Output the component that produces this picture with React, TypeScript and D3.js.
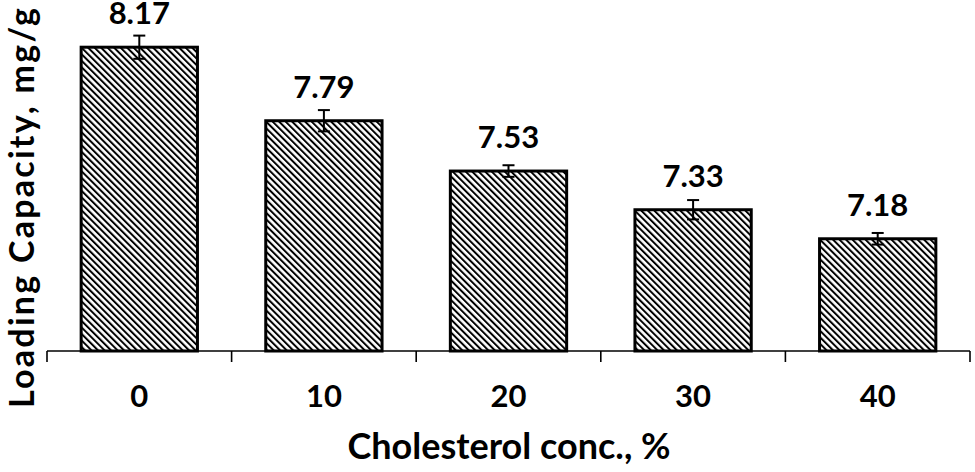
import { useEffect, useRef } from 'react';
import * as d3 from 'd3';

const categories = ['0', '10', '20', '30', '40'];
const values = [8.17, 7.79, 7.53, 7.33, 7.18];
const errors = [0.06, 0.055, 0.03, 0.05, 0.03];
const valueLabels = ['8.17', '7.79', '7.53', '7.33', '7.18'];

const xTitle = 'Cholesterol conc., %';
const yTitle = 'Loading Capacity, mg/g';

const width = 975;
const height = 472;
const FONT = 'Lato, "Open Sans", sans-serif';

export default function App() {
  const svgRef = useRef<SVGSVGElement>(null);

  useEffect(() => {
    const svg = d3.select(svgRef.current);
    svg.selectAll('*').remove();

    const left = 47;
    const right = 970;
    const base = 351;

    const x = d3
      .scaleBand<string>()
      .domain(categories)
      .range([left, right])
      .paddingInner(0.37)
      .paddingOuter(0.185);
    const y = d3.scaleLinear().domain([6.6, 8.2]).range([base, 41.4]);

    // hatch pattern, lines running top-left to bottom-right
    const defs = svg.append('defs');
    const pat = defs
      .append('pattern')
      .attr('id', 'hatch')
      .attr('patternUnits', 'userSpaceOnUse')
      .attr('width', 4.6)
      .attr('height', 10)
      .attr('patternTransform', 'rotate(-45)');
    pat.append('rect').attr('width', 4.6).attr('height', 10).attr('fill', '#fff');
    pat
      .append('line')
      .attr('x1', 1)
      .attr('x2', 1)
      .attr('y1', 0)
      .attr('y2', 10)
      .attr('stroke', '#000')
      .attr('stroke-width', 2);

    const rows = categories.map((c, i) => ({
      c,
      v: values[i],
      e: errors[i],
      label: valueLabels[i],
    }));

    // bars
    svg
      .append('g')
      .selectAll('rect')
      .data(rows)
      .join('rect')
      .attr('x', (d) => x(d.c)!)
      .attr('y', (d) => y(d.v))
      .attr('width', x.bandwidth())
      .attr('height', (d) => base - y(d.v))
      .attr('fill', 'url(#hatch)')
      .attr('stroke', '#000')
      .attr('stroke-width', 3);

    // x axis line + ticks at band edges
    const ax = svg.append('g').attr('stroke', '#000').attr('stroke-width', 1.6);
    ax.append('line')
      .attr('x1', left)
      .attr('x2', right)
      .attr('y1', base)
      .attr('y2', base);
    const edges = d3.range(categories.length + 1).map((i) => left + i * x.step());
    ax.selectAll('line.tick')
      .data(edges)
      .join('line')
      .attr('class', 'tick')
      .attr('x1', (d) => d)
      .attr('x2', (d) => d)
      .attr('y1', base)
      .attr('y2', base + 11);

    // error bars
    const eb = svg
      .append('g')
      .attr('stroke', '#000')
      .attr('stroke-width', 2);
    rows.forEach((d) => {
      const cx = x(d.c)! + x.bandwidth() / 2;
      const y1 = y(d.v + d.e);
      const y2 = y(d.v - d.e);
      eb.append('line').attr('x1', cx).attr('x2', cx).attr('y1', y1).attr('y2', y2);
      eb.append('line').attr('x1', cx - 6).attr('x2', cx + 6).attr('y1', y1).attr('y2', y1);
      eb.append('line').attr('x1', cx - 6).attr('x2', cx + 6).attr('y1', y2).attr('y2', y2);
    });

    // value labels
    svg
      .append('g')
      .selectAll('text')
      .data(rows)
      .join('text')
      .attr('x', (d) => x(d.c)! + x.bandwidth() / 2)
      .attr('y', (d) => y(d.v) - 23)
      .attr('text-anchor', 'middle')
      .attr('font-family', FONT)
      .attr('font-weight', 700)
      .attr('font-size', 31)
      .text((d) => d.label);

    // category labels
    svg
      .append('g')
      .selectAll('text')
      .data(categories)
      .join('text')
      .attr('x', (d) => x(d)! + x.bandwidth() / 2)
      .attr('y', 407)
      .attr('text-anchor', 'middle')
      .attr('font-family', FONT)
      .attr('font-weight', 700)
      .attr('font-size', 31)
      .text((d) => d);

    // axis titles
    svg
      .append('text')
      .attr('x', 509)
      .attr('y', 459)
      .attr('text-anchor', 'middle')
      .attr('font-family', FONT)
      .attr('font-weight', 700)
      .attr('font-size', 36)
      .text(xTitle);

    svg
      .append('text')
      .attr('transform', 'translate(34,208) rotate(-90)')
      .attr('text-anchor', 'middle')
      .attr('font-family', FONT)
      .attr('font-weight', 700)
      .attr('font-size', 34)
      .attr('textLength', 400)
      .text(yTitle);
  }, []);

  return (
    <div style={{ position: 'absolute', left: 0, top: 0, background: '#fff' }}>
      <svg ref={svgRef} width={width} height={height} viewBox={`0 0 ${width} ${height}`} />
    </div>
  );
}
